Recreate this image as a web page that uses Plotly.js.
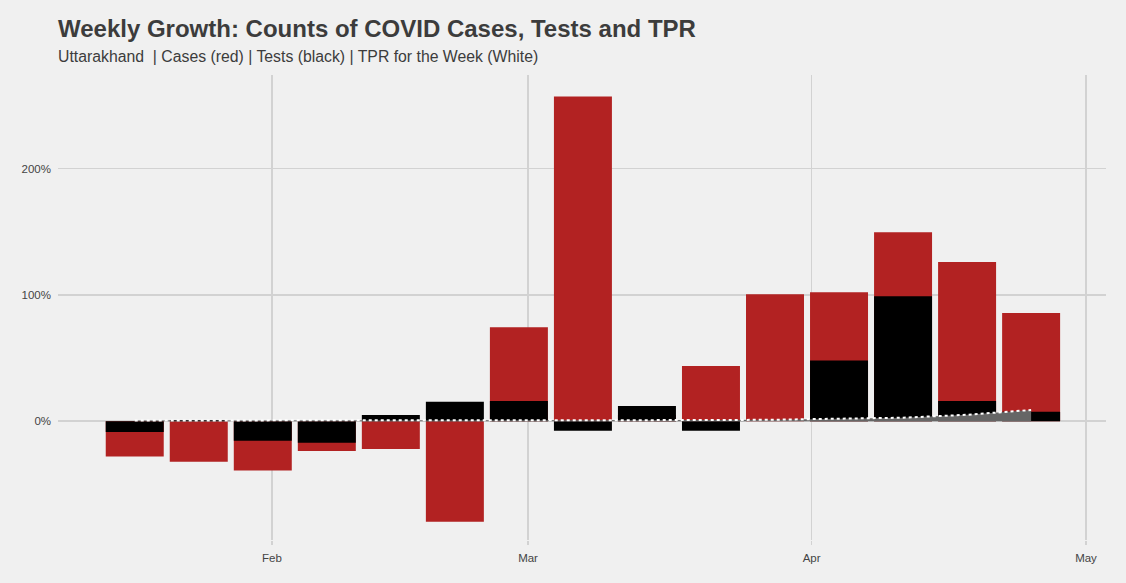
<!DOCTYPE html>
<html>
<head>
<meta charset="utf-8">
<script src="https://cdn.plot.ly/plotly-3.0.1.min.js"></script>
<style>
html,body{margin:0;padding:0;background:#f0f0f0;}
#chart{width:1126px;height:583px;}
</style>
</head>
<body>
<div id="chart"></div>
<script>
// Week dates (bar centres)
var weeks = ["2021-01-17","2021-01-24","2021-01-31","2021-02-07","2021-02-14","2021-02-21","2021-02-28",
             "2021-03-07","2021-03-14","2021-03-21","2021-03-28","2021-04-04","2021-04-11","2021-04-18","2021-04-25"];
// Weekly growth in cases (%)
var casesGrowth = [-28, -32, -39, -23.5, -22, -79.5, 74.4, 257, 5, 43.7, 100.4, 102, 149.6, 126, 85.6];
// Weekly growth in tests (%)
var testsGrowth = [-8.6, 1, -15.5, -17, 5, 15.5, 16, -7.5, 12, -7.5, 0, 48, 99, 16, 7.5];
// Test positivity rate for the week (%)
var tprWeek = [0.6, 0.6, 0.5, 0.5, 0.5, 0.6, 0.7, 0.7, 0.8, 0.9, 1.2, 1.7, 2.8, 5.1, 8.9];

var DAY = 86400000;
var barWidth = 6.34 * DAY;

var traces = [
  {type:'bar', x:weeks, y:casesGrowth, width:barWidth, marker:{color:'#b22222', line:{width:0}}, hoverinfo:'x+y'},
  {type:'bar', x:weeks, y:testsGrowth, width:barWidth, marker:{color:'#000000', line:{width:0}}, hoverinfo:'x+y'},
  {type:'scatter', mode:'lines', x:weeks, y:tprWeek, fill:'tozeroy', fillcolor:'#666666',
   line:{color:'#ffffff', width:2, dash:'dot'}, hoverinfo:'x+y'}
];

var layout = {
  width:1126, height:583,
  paper_bgcolor:'#f0f0f0', plot_bgcolor:'#f0f0f0',
  showlegend:false,
  barmode:'overlay',
  margin:{l:58, r:20, t:75, b:43},
  font:{family:'"Liberation Sans", Arial, sans-serif', color:'#444444'},
  xaxis:{
    type:'date',
    range:['2021-01-08 14:40','2021-05-03 04:30'],
    tick0:'2021-01-01', dtick:'M1', tickformat:'%b',
    showgrid:true, gridcolor:'#d2d2d2', gridwidth:1.5,
    zeroline:false, showline:false,
    ticks:'outside', ticklen:4, tickcolor:'#d2d2d2', tickwidth:1.5,
    ticklabelstandoff:3,
    tickfont:{size:11.5, color:'#444444'}
  },
  yaxis:{
    range:[-94, 274],
    tickvals:[0,100,200], ticktext:['0%','100%','200%'],
    showgrid:true, gridcolor:'#d2d2d2', gridwidth:1.5,
    zeroline:false, showline:false, ticks:'',
    ticklabelstandoff:6,
    tickfont:{size:11.5, color:'#444444'}
  },
  annotations:[
    {text:'<b>Weekly Growth: Counts of COVID Cases, Tests and TPR</b>', xref:'paper', yref:'paper',
     x:0, y:1, xanchor:'left', yanchor:'bottom', yshift:31, xshift:-2, showarrow:false,
     font:{size:24, color:'#3c3c3c'}},
    {text:'Uttarakhand  | Cases (red) | Tests (black) | TPR for the Week (White)', xref:'paper', yref:'paper',
     x:0, y:1, xanchor:'left', yanchor:'bottom', yshift:8, xshift:-2, showarrow:false,
     font:{size:15.8, color:'#3c3c3c'}}
  ]
};

Plotly.newPlot('chart', traces, layout, {displayModeBar:false, staticPlot:true});
</script>
</body>
</html>
